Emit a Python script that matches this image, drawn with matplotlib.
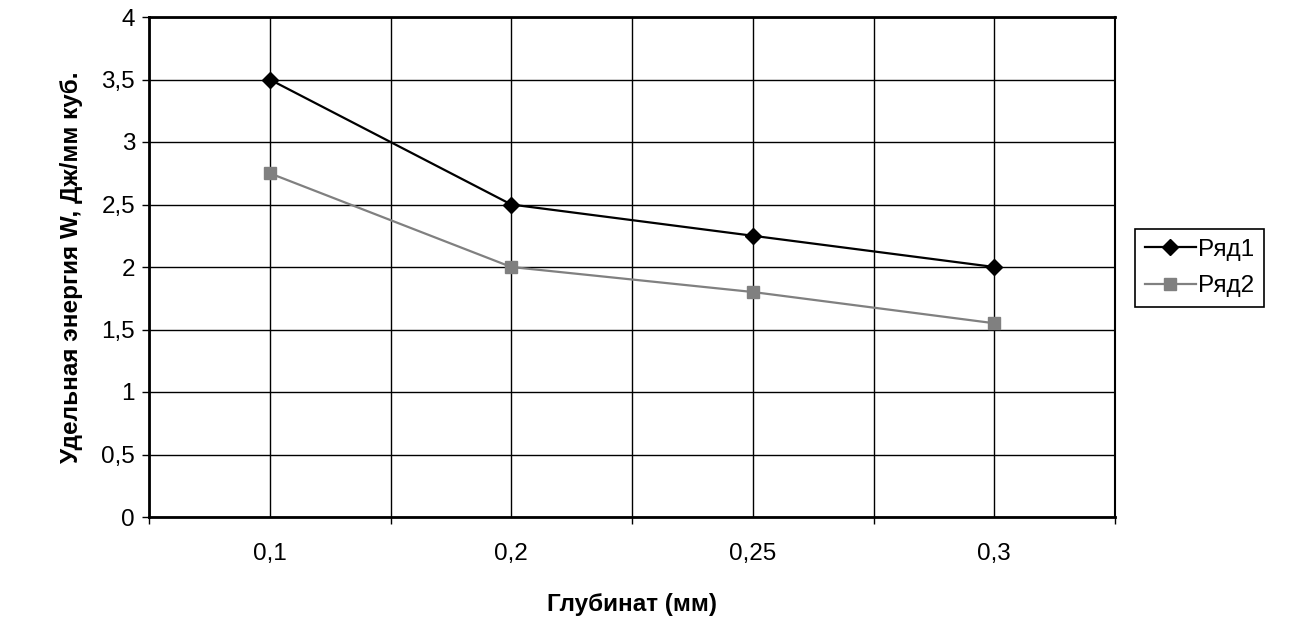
import matplotlib
matplotlib.use("Agg")
import matplotlib.pyplot as plt
import numpy as np

plt.rcParams['font.family'] = ['Liberation Sans', 'DejaVu Sans']

categories = ["0,1", "0,2", "0,25", "0,3"]
series1 = [3.5, 2.5, 2.25, 2.0]
series2 = [2.75, 2.0, 1.8, 1.55]
series_names = ["Ряд1", "Ряд2"]
y_ticks = [0, 0.5, 1, 1.5, 2, 2.5, 3, 3.5, 4]
y_tick_labels = ["0", "0,5", "1", "1,5", "2", "2,5", "3", "3,5", "4"]
x_title = "Глубинат (мм)"
y_title = "Удельная энергия W, Дж/мм куб."

FS = 17.5
W, H, DPI = 1297, 626, 100
fig = plt.figure(figsize=(W / DPI, H / DPI), dpi=DPI)
ax = fig.add_axes([149 / W, 1 - 517 / H, (1115 - 149) / W, (517 - 17) / H])

x = np.arange(len(categories))
ax.plot(x, series1, color="black", lw=1.6, marker="D", ms=8.5,
        label=series_names[0], zorder=5)
ax.plot(x, series2, color="#808080", lw=1.6, marker="s", ms=8.5,
        label=series_names[1], zorder=5)

ax.set_xlim(-0.5, len(categories) - 0.5)
ax.set_ylim(0, 4)

# category labels at centres, tick marks at category boundaries
ax.set_xticks(x)
ax.set_xticklabels(categories, fontsize=FS)
ax.set_xticks(np.arange(-0.5, len(categories)), minor=True)
ax.tick_params(axis="x", which="major", length=0, pad=19)
ax.tick_params(axis="x", which="minor", length=5, width=1, direction="out",
               color="black")

ax.set_yticks(y_ticks)
ax.set_yticklabels(y_tick_labels, fontsize=FS)
ax.tick_params(axis="y", which="major", length=5, width=1, direction="out",
               pad=5, color="black")

ax.grid(True, which="major", axis="both", color="black", lw=1.0, zorder=0)
ax.grid(True, which="minor", axis="x", color="black", lw=1.0, zorder=0)
ax.set_axisbelow(True)

for side in ["left", "bottom", "top"]:
    ax.spines[side].set_linewidth(2.0)
ax.spines["right"].set_linewidth(1.5)
for s in ax.spines.values():
    s.set_color("black")

ax.set_xlabel(x_title, fontsize=FS, fontweight="bold")
ax.xaxis.set_label_coords(0.5, -(605 - 517) / 500)
ax.xaxis.label.set_va("center")
ax.set_ylabel(y_title, fontsize=FS, fontweight="bold")
ax.yaxis.set_label_coords((72 - 149) / 966, 0.5)
ax.yaxis.label.set_va("center")

leg = ax.legend(loc="center left", bbox_to_anchor=(1135 / W, 1 - 268 / H),
                bbox_transform=fig.transFigure, fontsize=FS, frameon=True,
                fancybox=False, framealpha=1, edgecolor="black",
                handlelength=2.1, handletextpad=0.1, borderpad=0.4,
                labelspacing=0.6, borderaxespad=0)
leg.get_frame().set_linewidth(1.2)

fig.savefig("out.png", dpi=DPI, facecolor="white")
